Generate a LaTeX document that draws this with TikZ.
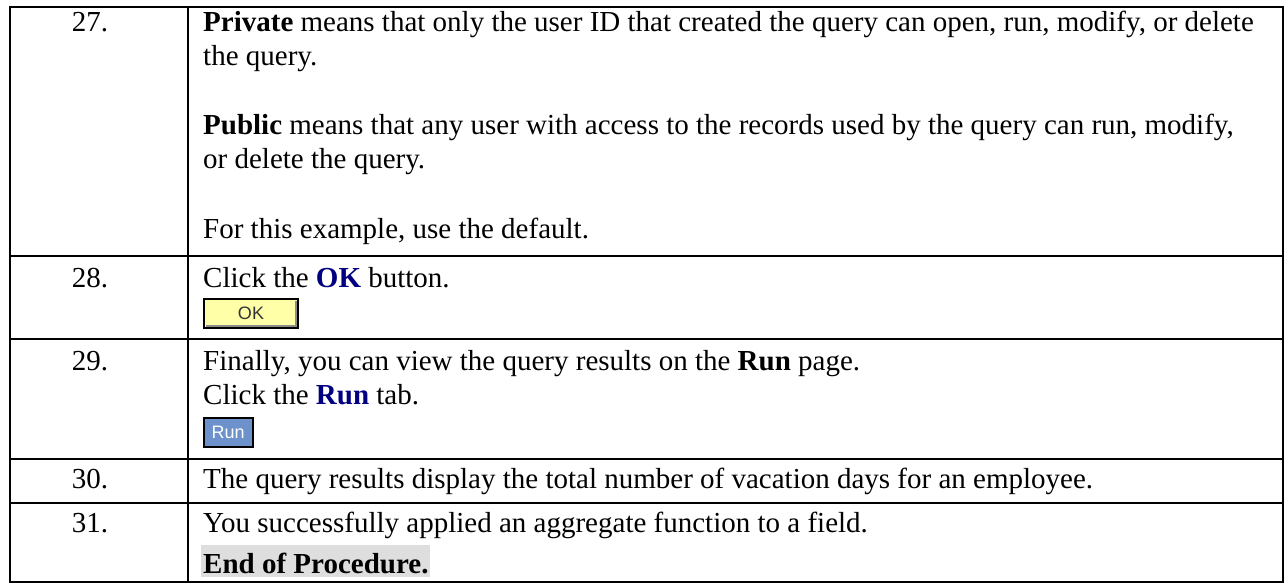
\documentclass[tikz,border=0pt]{standalone}
\usepackage{fontspec}
\setmainfont{Liberation Serif}
\newfontfamily\btnfont{Liberation Sans}
\usepackage{xcolor}
\usetikzlibrary{positioning}
\definecolor{linkblue}{HTML}{000080}
\definecolor{okfill}{HTML}{FFFFA8}
\definecolor{runfill}{HTML}{6D92CB}
\definecolor{endgray}{HTML}{DEDEDE}
\tikzset{%
  grid/.style={line width=2pt},
  num/.style={anchor=base,inner sep=0pt,font=\fontsize{29}{34}\selectfont},
  txt/.style={anchor=base west,inner sep=0pt,font=\fontsize{29}{34}\selectfont},
  okbtn/.style={anchor=north west,draw,line width=2pt,fill=okfill,minimum width=94pt,
    minimum height=29pt,inner sep=0pt,font=\btnfont\fontsize{18}{20}\selectfont,text=black!80},
  runtab/.style={anchor=north west,draw,line width=1.5pt,fill=runfill,minimum width=49pt,
    minimum height=29pt,inner sep=0pt,font=\btnfont\fontsize{18}{20}\selectfont,text=white},
  endbox/.style={anchor=base west,fill=endgray,inner sep=2pt,text height=26pt,text depth=2pt,
    font=\fontsize{29}{34}\selectfont\bfseries},
}
\newcommand{\hl}[1]{\textbf{\color{linkblue}#1}}

\begin{document}
\begin{tikzpicture}[x=1pt,y=-1pt]
  \useasboundingbox (0,0) rectangle (1285,584);

  % table lines
  \draw[grid] (10,7) rectangle (1283,582);
  \draw[grid] (188,7) -- (188,582);
  \foreach \y in {256,339,459,503}
    \draw[grid] (10,\y) -- (1283,\y);

  % step numbers
  \node[num] (n27) at (90,31) {27.};
  \node[num] (n28) at (90,287) {28.};
  \node[num] (n29) at (90,370) {29.};
  \node[num] (n30) at (90,488) {30.};
  \node[num] (n31) at (90,532) {31.};

  % step 27
  \node[txt] (priv) at (203,31) {\textbf{Private} means that only the user ID that created the query can open, run, modify, or delete};
  \node[txt] (privb) at (203,65) {the query.};
  \node[txt] (pub) at (203,134) {\textbf{Public} means that any user with access to the records used by the query can run, modify,};
  \node[txt] (pubb) at (203,168) {or delete the query.};
  \node[txt] (deflt) at (203,238) {For this example, use the default.};

  % step 28
  \node[txt] (clickok) at (203,287) {Click the \hl{OK} button.};
  \node[okbtn] (ok) at (203,298) {OK};
  \draw[black!45,line width=1.5pt] ([xshift=3pt,yshift=3pt]ok.south west) -- ([xshift=-3pt,yshift=3pt]ok.south east)
    -- ([xshift=-3pt,yshift=-3pt]ok.north east);

  % step 29
  \node[txt] (final) at (203,370) {Finally, you can view the query results on the \textbf{Run} page.};
  \node[txt] (clickrun) at (203,404) {Click the \hl{Run} tab.};
  \node[runtab] (run) at (203,417) {Run};

  % step 30
  \node[txt] (total) at (203,488) {The query results display the total number of vacation days for an employee.};

  % step 31
  \node[txt] (done) at (203,532) {You successfully applied an aggregate function to a field.};
  \node[endbox] (endp) at (201,573) {End of Procedure.};
\end{tikzpicture}
\end{document}
